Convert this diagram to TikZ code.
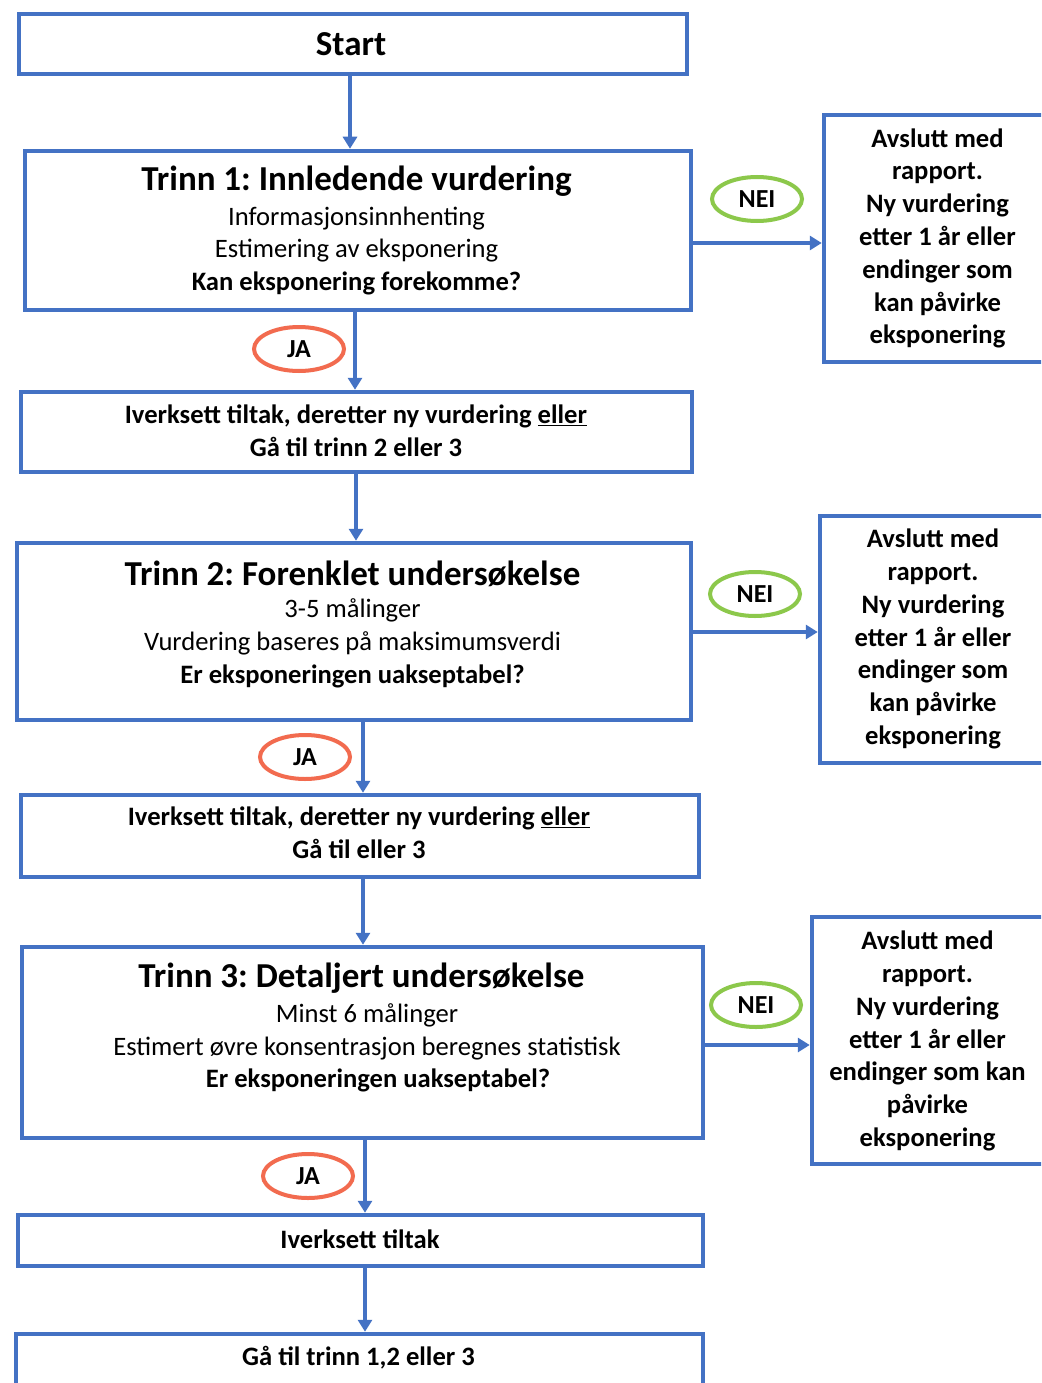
\documentclass[tikz,border=0pt]{standalone}
\usepackage{fontspec}
\setmainfont{Carlito}
\usetikzlibrary{arrows.meta,shapes.geometric}
\definecolor{frameblue}{HTML}{4472C4}
\definecolor{neigreen}{HTML}{8CC84B}
\definecolor{jared}{HTML}{F26B4F}
\frenchspacing

\begin{document}
\begin{tikzpicture}[x=1pt,y=-1pt,
  box/.style={draw=frameblue, line width=4.5pt, rectangle, inner sep=0pt},
  arr/.style={draw=frameblue, line width=3.5pt, -{Triangle[width=14pt,length=12pt]}},
  body/.style={align=center, inner sep=0pt, font=\fontsize{26.6}{32.8}\selectfont},
  bodyb/.style={body, font=\fontsize{26.6}{32.8}\selectfont\bfseries},
  ttl/.style={inner sep=0pt, font=\fontsize{35}{42}\selectfont\bfseries},
  tag/.style={ellipse, line width=4pt, minimum width=90pt, minimum height=44pt, inner sep=0pt,
              font=\fontsize{26}{30}\selectfont\bfseries},
  nei/.style={tag, draw=neigreen},
  ja/.style={tag, draw=jared}
]
\path[use as bounding box] (0,0) rectangle (1041,1383);
\clip (0,0) rectangle (1041,1383);
\fill[white] (0,0) rectangle (1041,1383);

% main column
\node[box, minimum width=668pt, minimum height=60pt]  (start) at (353,44)     {};
\node[box, minimum width=666pt, minimum height=159pt] (t1)    at (358,230.5)  {};
\node[box, minimum width=671pt, minimum height=80pt]  (iv1)   at (356.5,432)  {};
\node[box, minimum width=674pt, minimum height=177pt] (t2)    at (354,631.5)  {};
\node[box, minimum width=678pt, minimum height=82pt]  (iv2)   at (360,836)    {};
\node[box, minimum width=681pt, minimum height=191pt] (t3)    at (362.5,1042.5) {};
\node[box, minimum width=685pt, minimum height=51pt]  (iv3)   at (360.5,1240.5) {};
\node[box, minimum width=687pt, minimum height=74pt]  (goto)  at (359.5,1371) {};

% side column
\node[box, minimum width=236pt, minimum height=247pt] (r1) at (942,238.5)  {};
\node[box, minimum width=240pt, minimum height=247pt] (r2) at (940,639.5)  {};
\node[box, minimum width=248pt, minimum height=247pt] (r3) at (936,1040.5) {};

% texts
\node[ttl] (startT) at (351,44) {Start};

\node[ttl]  (t1T) at (356.5,181) {Trinn 1: Innledende vurdering};
\node[body] (t1B) at (356.5,251) {Informasjonsinnhenting\\Estimering av eksponering\\\textbf{Kan eksponering forekomme?}};

\node[bodyb] (iv1T) at (356,431) {Iverksett tiltak, deretter ny vurdering \underline{eller}\\Gå til trinn 2 eller 3};

\node[ttl]  (t2T) at (352.5,574) {Trinn 2: Forenklet undersøkelse};
\node[body] (t2B) at (352.5,643.5) {3-5 målinger\\Vurdering baseres på maksimumsverdi\\\textbf{Er eksponeringen uakseptabel?}};

\node[bodyb] (iv2T) at (359,832.5) {Iverksett tiltak, deretter ny vurdering \underline{eller}\\Gå til eller 3};

\node[ttl]  (t3T) at (361.5,978) {Trinn 3: Detaljert undersøkelse};
\node[body] (t3B) at (367,1048) {Minst 6 målinger\\Estimert øvre konsentrasjon beregnes statistisk\\\hspace*{22pt}\textbf{Er eksponeringen uakseptabel?}};

\node[bodyb] (iv3T) at (360,1239) {Iverksett tiltak};
\node[bodyb] (gotoT) at (358.5,1358) {Gå til trinn 1,2 eller 3};

\node[bodyb] (r1T) at (937.5,238.5) {Avslutt med\\rapport.\\Ny vurdering\\etter 1 år eller\\endinger som\\kan påvirke\\eksponering};
\node[bodyb] (r2T) at (933,639) {Avslutt med\\rapport.\\Ny vurdering\\etter 1 år eller\\endinger som\\kan påvirke\\eksponering};
\node[bodyb] (r3T) at (927.5,1041) {Avslutt med\\rapport.\\Ny vurdering\\etter 1 år eller\\endinger som kan\\påvirke\\eksponering};

% answer tags
\node[nei] (nei1) at (757,199)  {NEI};
\node[nei] (nei2) at (755,594)  {NEI};
\node[nei] (nei3) at (756,1005) {NEI};
\node[ja]  (ja1)  at (299,349)  {JA};
\node[ja]  (ja2)  at (305,757)  {JA};
\node[ja]  (ja3)  at (308,1176) {JA};

% connector guide lines
\coordinate (xa) at (350,0);
\coordinate (xb) at (355,0);
\coordinate (xc) at (356,0);
\coordinate (xd) at (363,0);
\coordinate (xe) at (365,0);
\coordinate (ya) at (0,243);
\coordinate (yb) at (0,632);
\coordinate (yc) at (0,1045);

% vertical flow
\draw[arr] (start.south -| xa) -- (t1.north -| xa);
\draw[arr] (t1.south -| xb) -- (iv1.north -| xb);
\draw[arr] (iv1.south -| xc) -- (t2.north -| xc);
\draw[arr] (t2.south -| xd) -- (iv2.north -| xd);
\draw[arr] (iv2.south -| xd) -- (t3.north -| xd);
\draw[arr] (t3.south -| xe) -- (iv3.north -| xe);
\draw[arr] (iv3.south -| xe) -- (goto.north -| xe);

% side branches
\draw[arr] (t1.east |- ya) -- (r1.west |- ya);
\draw[arr] (t2.east |- yb) -- (r2.west |- yb);
\draw[arr] (t3.east |- yc) -- (r3.west |- yc);
\end{tikzpicture}
\end{document}
